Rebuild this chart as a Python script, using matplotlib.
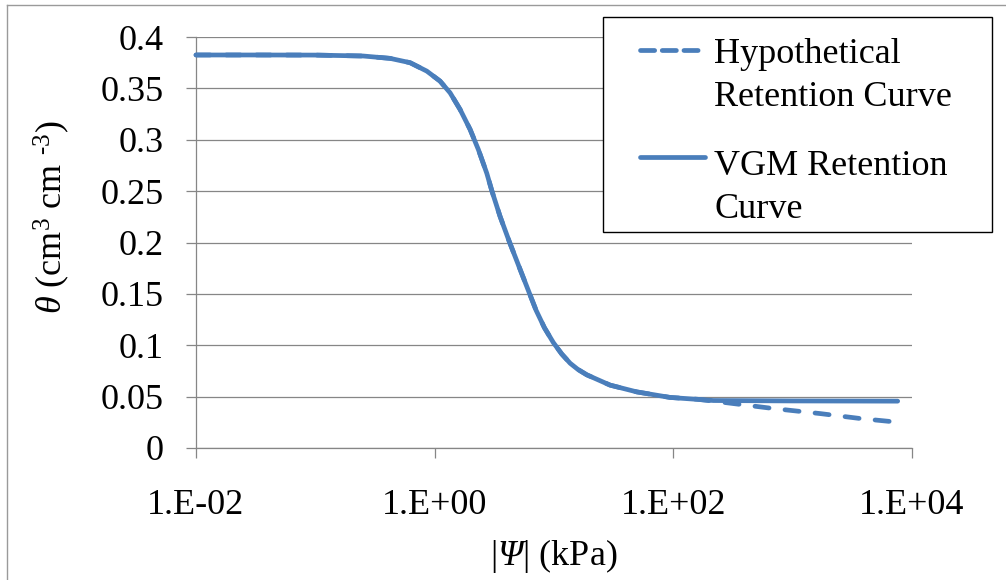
import matplotlib
matplotlib.use("Agg")
import matplotlib.pyplot as plt
from matplotlib.lines import Line2D
from matplotlib.patches import Rectangle

W, H = 1006, 580
DPI = 100

plt.rcParams['font.family'] = ['Liberation Serif', 'DejaVu Serif']
plt.rcParams['mathtext.fontset'] = 'custom'
plt.rcParams['mathtext.rm'] = 'Liberation Serif'
plt.rcParams['mathtext.it'] = 'Liberation Serif:italic'
plt.rcParams['mathtext.cal'] = 'Liberation Serif:italic'

# Matric suction |psi| (kPa) and volumetric water content theta (cm3 cm-3)
psi_vgm = [0.01, 0.032, 0.1, 0.252, 0.423, 0.622, 0.859, 1.109, 1.346,
           1.633, 1.982, 2.323, 2.735, 3.013, 3.532, 4.227, 5.129, 6.223,
           7.079, 8.318, 9.886, 11.61, 13.65, 15.85, 18.84, 29.51, 49.43,
           93.97, 216.8, 1000, 7586]
theta_vgm = [0.3825, 0.3825, 0.3824, 0.3815, 0.3792, 0.3750, 0.3668, 0.3571,
             0.3457, 0.3295, 0.3100, 0.2905, 0.2673, 0.2504, 0.2254, 0.2007,
             0.1756, 0.1506, 0.1340, 0.1170, 0.1025, 0.0915, 0.0825, 0.0765,
             0.0712, 0.0612, 0.0546, 0.0492, 0.0462, 0.0458, 0.0456]

psi_hyp = [0.01, 0.032, 0.1, 0.252, 0.423, 0.622, 0.859, 1.109, 1.346,
           1.633, 1.982, 2.323, 2.735, 3.013, 3.532, 4.227, 5.129, 6.223,
           7.079, 8.318, 9.886, 11.61, 13.65, 15.85, 18.84, 29.51, 49.43,
           93.97, 158, 282, 692, 1700, 3680, 7000]
theta_hyp = [0.3825, 0.3825, 0.3824, 0.3815, 0.3792, 0.3750, 0.3668, 0.3571,
             0.3457, 0.3295, 0.3100, 0.2905, 0.2673, 0.2504, 0.2254, 0.2007,
             0.1756, 0.1506, 0.1340, 0.1170, 0.1025, 0.0915, 0.0825, 0.0765,
             0.0712, 0.0612, 0.0546, 0.0492, 0.0475, 0.0440, 0.0384, 0.0335,
             0.0287, 0.0255]

x_ticks = [1e-2, 1e0, 1e2, 1e4]
x_tick_labels = ['1.E-02', '1.E+00', '1.E+02', '1.E+04']
y_ticks = [0, 0.05, 0.1, 0.15, 0.2, 0.25, 0.3, 0.35, 0.4]
y_tick_labels = ['0', '0.05', '0.1', '0.15', '0.2', '0.25', '0.3', '0.35', '0.4']
legend_lines = [['Hypothetical', 'Retention Curve'], ['VGM Retention', 'Curve']]

BLUE = '#4a7ebb'
GRAY = '#868686'
FS = 26
LW = 3.4


def fx(px):
    return px / W


def fy(py):
    return 1 - py / H


fig = plt.figure(figsize=(W / DPI, H / DPI), dpi=DPI)
fig.patch.set_facecolor('white')

# plot area
left, right, top, bottom = 196, 912, 37, 448
ax = fig.add_axes([fx(left), fy(bottom), fx(right - left), (bottom - top) / H])
ax.set_xscale('log')
ax.set_xlim(1e-2, 1e4)
ax.set_ylim(0, 0.4)

ax.plot(psi_hyp, theta_hyp, color=BLUE, lw=LW, dashes=(3.0, 3.4),
        dash_capstyle='round', dash_joinstyle='round', zorder=3, clip_on=False)
ax.plot(psi_vgm, theta_vgm, color=BLUE, lw=LW, solid_capstyle='round',
        solid_joinstyle='round', zorder=4, clip_on=False)

ax.set_xticks(x_ticks)
ax.set_xticklabels(x_tick_labels)
ax.xaxis.set_minor_locator(matplotlib.ticker.NullLocator())
ax.set_yticks(y_ticks)
ax.set_yticklabels(y_tick_labels)

ax.grid(axis='y', color=GRAY, lw=0.9, zorder=0)
ax.set_axisbelow(True)
for s in ('top', 'right'):
    ax.spines[s].set_visible(False)
for s in ('left', 'bottom'):
    ax.spines[s].set_color(GRAY)
    ax.spines[s].set_linewidth(0.9)
ax.tick_params(axis='both', direction='out', length=7.5, width=0.9,
               color=GRAY, labelsize=FS, labelcolor='black')
ax.tick_params(axis='y', pad=16)
ax.tick_params(axis='x', pad=22)

# axis titles
fig.text(fx(52), fy(217), '$\\theta$ (cm$^{3}$ cm $^{\u20103}$)', rotation=90,
         ha='center', va='center', fontsize=FS)
fig.text(fx(554), fy(556), r'|$\mathcal{\Psi}$| (kPa)',
         ha='center', va='center', fontsize=FS)

# legend box
fig.add_artist(Rectangle((fx(603), fy(232)), fx(992 - 603), (232 - 17) / H,
                         transform=fig.transFigure, facecolor='white',
                         edgecolor='black', lw=1.0, zorder=5))
fig.add_artist(Line2D([fx(640), fx(705)], [fy(50), fy(50)],
                      transform=fig.transFigure, color=BLUE, lw=LW,
                      dashes=(3.0, 1.6), dash_capstyle='round', zorder=6))
fig.add_artist(Line2D([fx(640), fx(705)], [fy(157), fy(157)],
                      transform=fig.transFigure, color=BLUE, lw=LW,
                      solid_capstyle='round', zorder=6))
for (l1, l2), b1 in zip(legend_lines, (63, 175)):
    fig.text(fx(714), fy(b1), l1, va='baseline', ha='left', fontsize=FS, zorder=7)
    fig.text(fx(714), fy(b1 + 43), l2, va='baseline', ha='left', fontsize=FS, zorder=7)

# chart area border
fig.add_artist(Line2D([fx(7), fx(7)], [fy(5), fy(H + 5)],
                      transform=fig.transFigure, color='#9a9a9a', lw=1.0))
fig.add_artist(Line2D([fx(7), fx(W + 5)], [fy(5), fy(5)],
                      transform=fig.transFigure, color='#9a9a9a', lw=1.0))

fig.savefig('out.png', dpi=DPI, facecolor='white')
